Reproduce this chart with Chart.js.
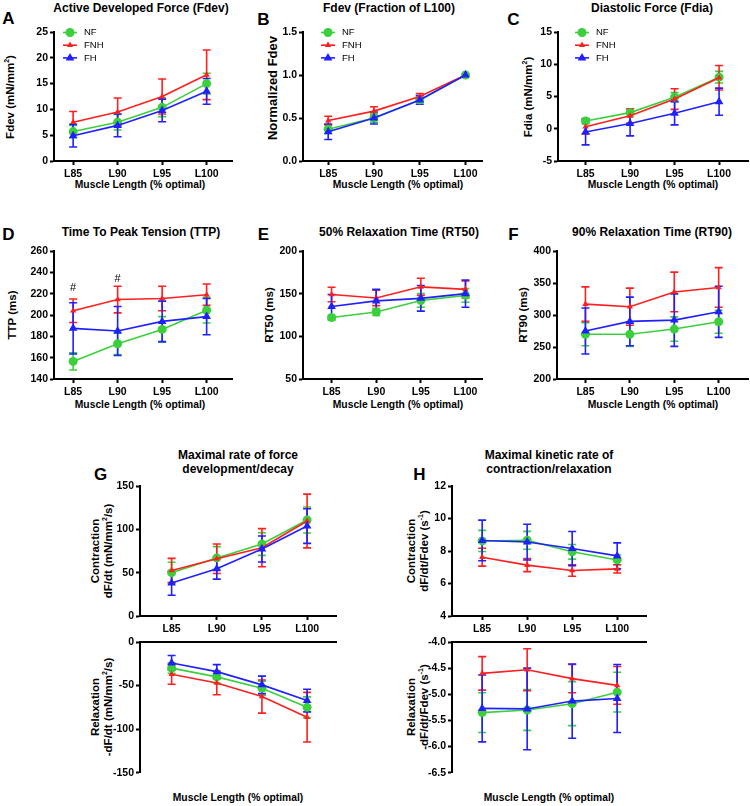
<!DOCTYPE html>
<html>
<head>
<meta charset="utf-8">
<script src="https://cdn.jsdelivr.net/npm/chart.js@4.4.1/dist/chart.umd.min.js"></script>
<style>
    body { margin: 0; background: #fff; }
    #fig { position: relative; width: 750px; height: 806px; font-family: 'Liberation Sans', Arial, sans-serif; color: #000; overflow: hidden; }
    #fig canvas { position: absolute; }
    .t { position: absolute; font-weight: bold; white-space: nowrap; transform: translate(-50%, -50%); line-height: 1; text-align: center; }
    .title { font-size: 12px; line-height: 14px; }
    .xt { font-size: 10.3px; }
    .yt { font-size: 11.5px; line-height: 13px; transform: translate(-50%, -50%) rotate(-90deg); }
    .lt { font-size: 17px; }
    sup { font-size: 7px; line-height: 0; }
</style>
</head>
<body>
<div id="fig">
    <!-- panel letters -->
    <div class="t lt" style="left:8.5px;top:18px">A</div>
    <div class="t lt" style="left:263.5px;top:18.5px">B</div>
    <div class="t lt" style="left:513.5px;top:18.5px">C</div>
    <div class="t lt" style="left:8.5px;top:234px">D</div>
    <div class="t lt" style="left:263.5px;top:234px">E</div>
    <div class="t lt" style="left:513.5px;top:234px">F</div>
    <div class="t lt" style="left:100.5px;top:473.5px">G</div>
    <div class="t lt" style="left:419.5px;top:473.5px">H</div>

    <!-- titles -->
    <div class="t title" style="left:141px;top:8px">Active Developed Force (Fdev)</div>
    <div class="t title" style="left:389px;top:8px">Fdev (Fraction of L100)</div>
    <div class="t title" style="left:652px;top:8px">Diastolic Force (Fdia)</div>
    <div class="t title" style="left:141px;top:232px">Time To Peak Tension (TTP)</div>
    <div class="t title" style="left:399px;top:232px">50% Relaxation Time (RT50)</div>
    <div class="t title" style="left:652px;top:232px">90% Relaxation Time (RT90)</div>
    <div class="t title" style="left:238px;top:462px">Maximal rate of force<br>development/decay</div>
    <div class="t title" style="left:549px;top:462px">Maximal kinetic rate of<br>contraction/relaxation</div>

    <!-- x axis titles -->
    <div class="t xt" style="left:140px;top:185px">Muscle Length (% optimal)</div>
    <div class="t xt" style="left:398px;top:185px">Muscle Length (% optimal)</div>
    <div class="t xt" style="left:653px;top:185px">Muscle Length (% optimal)</div>
    <div class="t xt" style="left:140px;top:405px">Muscle Length (% optimal)</div>
    <div class="t xt" style="left:398px;top:405px">Muscle Length (% optimal)</div>
    <div class="t xt" style="left:653px;top:405px">Muscle Length (% optimal)</div>
    <div class="t xt" style="left:238px;top:798px">Muscle Length (% optimal)</div>
    <div class="t xt" style="left:549px;top:798px">Muscle Length (% optimal)</div>

    <!-- y axis titles -->
    <div class="t yt" style="left:10px;top:97px">Fdev (mN/mm<sup>2</sup>)</div>
    <div class="t yt" style="left:272px;top:88px;font-size:13px">Normalized Fdev</div>
    <div class="t yt" style="left:528px;top:97px">Fdia (mN/mm<sup>2</sup>)</div>
    <div class="t yt" style="left:12px;top:315px">TTP (ms)</div>
    <div class="t yt" style="left:269px;top:315px">RT50 (ms)</div>
    <div class="t yt" style="left:523px;top:315px">RT90 (ms)</div>
    <div class="t yt" style="left:101.5px;top:551px">Contraction<br>dF/dt (mN/mm<sup>2</sup>/s)</div>
    <div class="t yt" style="left:101.5px;top:707px">Relaxation<br>-dF/dt (mN/mm<sup>2</sup>/s)</div>
    <div class="t yt" style="left:417.5px;top:551px">Contraction<br>dF/dt/Fdev (s<sup>-1</sup>)</div>
    <div class="t yt" style="left:417.5px;top:707px">Relaxation<br>-dF/dt/Fdev (s<sup>-1</sup>)</div>
</div>

<script>
const lengths = ['L85', 'L90', 'L95', 'L100'];
const groups = ['NF', 'FNH', 'FH'];

// rows: NF, FNH, FH -- mean and SEM per muscle length
const fdevMean = [[5.7, 7.5, 10.4, 15.0], [7.5, 9.5, 12.5, 16.7], [4.9, 6.9, 9.8, 13.5]];
const fdevSem = [[1.2, 1.5, 1.8, 2.0], [2.1, 2.7, 3.4, 4.8], [2.2, 2.2, 2.2, 2.5]];

const normMean = [[0.37, 0.50, 0.71, 1.0], [0.47, 0.58, 0.75, 1.0], [0.34, 0.50, 0.71, 1.0]];
const normSem = [[0.05, 0.05, 0.03, 0], [0.05, 0.05, 0.035, 0], [0.09, 0.07, 0.05, 0]];

const fdiaMean = [[1.2, 2.5, 4.9, 8.0], [0.3, 2.0, 4.6, 7.9], [-0.5, 0.8, 2.4, 4.2]];
const fdiaSem = [[0.4, 0.6, 0.7, 0.9], [1.1, 1.1, 1.6, 1.9], [2.0, 1.9, 1.8, 2.1]];

const ttpMean = [[156.5, 173, 186.5, 204.5], [204, 214.5, 215.5, 219], [187.5, 185, 194, 198.5]];
const ttpSem = [[8, 10, 12, 12], [11, 12.5, 11.5, 10], [24, 23, 19, 17]];
const ttpSig = ['#', '#', '', ''];
const ttpSigAt = [225, 234, null, null];

const rt50Mean = [[122, 128.5, 142, 148], [149, 145, 158, 155], [135, 141.5, 144.5, 150]];
const rt50Sem = [[3, 4, 8, 8], [8.5, 9, 10, 10], [14, 13.5, 15, 16]];

const rt90Mean = [[270, 270, 278, 289.5], [317, 313, 336, 343], [275, 290, 292, 305]];
const rt90Sem = [[18, 19, 19, 18], [27, 29, 31, 31], [36, 38, 41, 40]];

const contrMean = [[50, 67, 83, 110.8], [52.5, 66, 78.8, 109.6], [38, 54.5, 77.3, 103.8]];
const contrSem = [[12, 13, 13, 15], [14, 17, 22, 31], [14, 12, 15, 20]];

const relaxMean = [[-30, -40, -53, -75], [-37, -47, -62.6, -86.3], [-24, -34, -49.2, -67.2]];
const relaxSem = [[6, 7, 8, 12], [11.5, 13.5, 19, 28.5], [8.5, 8, 10, 13]];

const kContrMean = [[8.62, 8.66, 7.95, 7.45], [7.62, 7.13, 6.8, 6.9], [8.65, 8.55, 8.15, 7.7]];
const kContrSem = [[0.65, 0.55, 0.45, 0.3], [0.55, 0.4, 0.35, 0.25], [1.25, 1.1, 1.05, 0.8]];

const kRelaxMean = [[-5.35, -5.3, -5.18, -4.96], [-4.6, -4.53, -4.7, -4.83], [-5.27, -5.28, -5.13, -5.08]];
const kRelaxSem = [[0.38, 0.39, 0.42, 0.38], [0.32, 0.4, 0.27, 0.36], [0.64, 0.78, 0.71, 0.65]];

const colors = ['#3ccf3c', '#ff1f1f', '#2020ff'];
const markers = ['circle', 'triangle', 'triangle'];
const markerSize = [4.5, 3.6, 5];
const FONT = "'Liberation Sans', Arial, sans-serif";
const tickFont = { family: FONT, size: 10.5, weight: 'bold' };

// error bars with caps, drawn under the markers
const errorBarPlugin = {
    id: 'errorBars',
    beforeDatasetsDraw(chart) {
        const { ctx } = chart;
        const ys = chart.scales.y;
        chart.data.datasets.forEach((ds, i) => {
            const meta = chart.getDatasetMeta(i);
            ctx.save();
            ctx.strokeStyle = ds.borderColor;
            ctx.lineWidth = 1.6;
            meta.data.forEach((pt, j) => {
                const e = ds.errors[j];
                if (!e) return;
                const v = ds.data[j].y;
                const top = ys.getPixelForValue(v + e);
                const bot = ys.getPixelForValue(v - e);
                ctx.beginPath();
                ctx.moveTo(pt.x, top); ctx.lineTo(pt.x, bot);
                ctx.moveTo(pt.x - 4, top); ctx.lineTo(pt.x + 4, top);
                ctx.moveTo(pt.x - 4, bot); ctx.lineTo(pt.x + 4, bot);
                ctx.stroke();
            });
            ctx.restore();
        });
    }
};

// small legend inside the plot area
const legendPlugin = {
    id: 'miniLegend',
    afterDraw(chart, args, opts) {
        if (!opts || !opts.show) return;
        const { ctx, chartArea } = chart;
        chart.data.datasets.forEach((ds, i) => {
            const x = chartArea.left + opts.dx;
            const y = chartArea.top + opts.dy + i * 12.7;
            ctx.save();
            ctx.strokeStyle = ds.borderColor;
            ctx.fillStyle = ds.backgroundColor;
            ctx.lineWidth = 1.6;
            ctx.beginPath();
            ctx.moveTo(x - 7, y); ctx.lineTo(x + 7, y);
            ctx.stroke();
            Chart.helpers.drawPoint(ctx, { pointStyle: ds.pointStyle, radius: ds.pointRadius, borderWidth: 0, rotation: 0 }, x, y);
            ctx.fillStyle = '#000';
            ctx.font = '9.5px ' + FONT;
            ctx.textBaseline = 'middle';
            ctx.fillText(ds.label, x + 14, y);
            ctx.restore();
        });
    }
};

// "#" significance marks
const sigPlugin = {
    id: 'sigMarks',
    afterDraw(chart, args, opts) {
        if (!opts || !opts.labels) return;
        const { ctx } = chart;
        ctx.save();
        ctx.font = '11px ' + FONT;
        ctx.fillStyle = '#000';
        ctx.textAlign = 'center';
        ctx.textBaseline = 'middle';
        opts.labels.forEach((lab, j) => {
            if (!lab) return;
            ctx.fillText(lab, chart.scales.x.getPixelForValue(j), chart.scales.y.getPixelForValue(opts.at[j]));
        });
        ctx.restore();
    }
};

const fig = document.getElementById('fig');

function makePanel(p) {
    const showX = p.xLabels !== false;
    const padTop = 10, padRight = 6, yw = 40;
    const xh = showX ? 24 : 0;
    const padBottom = showX ? 0 : 8;
    const cv = document.createElement('canvas');
    cv.width = yw + (p.right - p.ax) + padRight;
    cv.height = padTop + (p.bottom - p.top) + xh + padBottom;
    cv.style.left = (p.ax - yw) + 'px';
    cv.style.top = (p.top - padTop) + 'px';
    fig.appendChild(cv);

    const datasets = groups.map((g, i) => ({
        label: g,
        data: p.mean[i].map((v, j) => ({ x: j, y: v })),
        errors: p.sem[i],
        borderColor: colors[i],
        backgroundColor: colors[i],
        borderWidth: 1.6,
        pointStyle: markers[i],
        pointRadius: markerSize[i],
        pointBorderWidth: 0,
        tension: 0,
        clip: false,
        order: 3 - i
    }));

    new Chart(cv, {
        type: 'line',
        data: { datasets },
        options: {
            responsive: false,
            animation: false,
            layout: { padding: { left: 0, top: padTop, right: padRight, bottom: padBottom } },
            plugins: {
                legend: { display: false },
                tooltip: { enabled: false },
                miniLegend: p.legend || {},
                sigMarks: p.sig || {}
            },
            scales: {
                x: {
                    type: 'linear',
                    position: showX ? 'bottom' : 'top',
                    min: p.xmin,
                    max: p.xmax,
                    afterBuildTicks: s => { s.ticks = lengths.map((_, i) => ({ value: i })); },
                    afterFit: s => { s.height = xh; },
                    ticks: { display: showX, callback: v => lengths[v], font: tickFont, color: '#000', padding: 3, maxRotation: 0, autoSkip: false },
                    grid: { drawOnChartArea: false, drawTicks: showX, tickLength: 4, tickWidth: 2, color: '#000' },
                    border: { display: true, color: '#000', width: 2 }
                },
                y: {
                    min: p.ymin,
                    max: p.ymax,
                    afterFit: s => { s.width = yw; },
                    ticks: { stepSize: p.step, callback: v => p.fmt ? v.toFixed(p.fmt) : v, font: tickFont, color: '#000', padding: 2 },
                    grid: { drawOnChartArea: false, tickLength: 4, tickWidth: 2, color: '#000' },
                    border: { display: true, color: '#000', width: 2 }
                }
            }
        },
        plugins: [errorBarPlugin, legendPlugin, sigPlugin]
    });
}

makePanel({ ax: 54, top: 32, bottom: 161, right: 232, xmin: -0.43, xmax: 3.57, ymin: 0, ymax: 25, step: 5, mean: fdevMean, sem: fdevSem, legend: { show: true, dx: 16, dy: 0.5 } });
makePanel({ ax: 303, top: 32, bottom: 161, right: 482, xmin: -0.55, xmax: 3.36, ymin: 0, ymax: 1.5, step: 0.5, fmt: 1, mean: normMean, sem: normSem, legend: { show: true, dx: 25, dy: 0.5 } });
makePanel({ ax: 558, top: 32, bottom: 161, right: 748, xmin: -0.62, xmax: 3.65, ymin: -5, ymax: 15, step: 5, mean: fdiaMean, sem: fdiaSem, legend: { show: true, dx: 24, dy: 0.5 } });
makePanel({ ax: 54, top: 251, bottom: 379, right: 232, xmin: -0.43, xmax: 3.57, ymin: 140, ymax: 260, step: 20, mean: ttpMean, sem: ttpSem, sig: { labels: ttpSig, at: ttpSigAt } });
makePanel({ ax: 303, top: 251, bottom: 379, right: 482, xmin: -0.64, xmax: 3.37, ymin: 50, ymax: 200, step: 50, mean: rt50Mean, sem: rt50Sem });
makePanel({ ax: 557, top: 251, bottom: 379, right: 748, xmin: -0.64, xmax: 3.66, ymin: 200, ymax: 400, step: 50, mean: rt90Mean, sem: rt90Sem });
makePanel({ ax: 140, top: 486, bottom: 616, right: 336, xmin: -0.70, xmax: 3.64, ymin: 0, ymax: 150, step: 50, mean: contrMean, sem: contrSem });
makePanel({ ax: 140, top: 642, bottom: 773, right: 336, xmin: -0.70, xmax: 3.64, ymin: -150, ymax: 0, step: 50, mean: relaxMean, sem: relaxSem, xLabels: false });
makePanel({ ax: 452, top: 486, bottom: 616, right: 646, xmin: -0.67, xmax: 3.64, ymin: 4, ymax: 12, step: 2, mean: kContrMean, sem: kContrSem });
makePanel({ ax: 452, top: 642, bottom: 773, right: 646, xmin: -0.67, xmax: 3.64, ymin: -6.5, ymax: -4, step: 0.5, fmt: 1, mean: kRelaxMean, sem: kRelaxSem, xLabels: false });
</script>
</body>
</html>
